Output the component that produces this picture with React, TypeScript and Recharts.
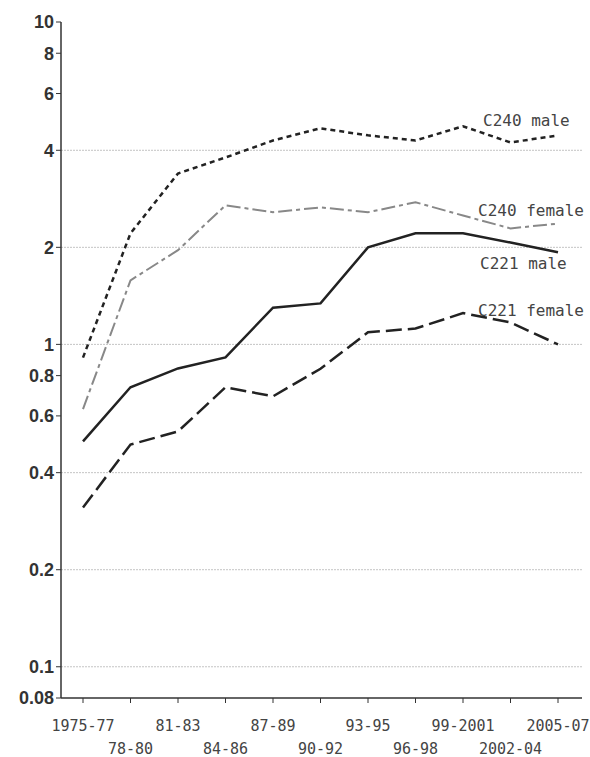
import { LineChart, Line, XAxis, YAxis, ReferenceLine, LabelList } from "recharts";

const periods = ["1975-77", "78-80", "81-83", "84-86", "87-89", "90-92", "93-95", "96-98", "99-2001", "2002-04", "2005-07"];
const c240Male = [0.91, 2.21, 3.39, 3.8, 4.29, 4.68, 4.45, 4.29, 4.75, 4.23, 4.45];
const c240Female = [0.63, 1.58, 1.96, 2.7, 2.57, 2.66, 2.57, 2.76, 2.51, 2.29, 2.37];
const c221Male = [0.5, 0.736, 0.842, 0.911, 1.3, 1.34, 2.0, 2.21, 2.21, 2.07, 1.93];
const c221Female = [0.312, 0.489, 0.537, 0.736, 0.69, 0.84, 1.09, 1.12, 1.25, 1.17, 1.0];
const yTicks = [0.08, 0.1, 0.2, 0.4, 0.6, 0.8, 1, 2, 4, 6, 8, 10];
const gridValues = [0.1, 0.2, 0.4, 1, 2, 4];

const data = periods.map((period, i) => ({
  period,
  c240Male: c240Male[i],
  c240Female: c240Female[i],
  c221Male: c221Male[i],
  c221Female: c221Female[i],
}));

const labelFont = "'DejaVu Sans Mono', monospace";

// label drawn only next to the last point
const endLabel = (text: string, dx: number, dy: number) => (props: any) => {
  if (props.index !== periods.length - 1) return null;
  return (
    <text x={props.x + dx} y={props.y + dy} fill="#444" fontSize={16} fontFamily={labelFont}>
      {text}
    </text>
  );
};

const XTick = (props: any) => {
  const { x, y, payload, index } = props;
  const dy = index % 2 === 0 ? 26 : 49;
  return (
    <text x={x} y={y + dy} textAnchor="middle" fill="#444" fontSize={15} fontFamily={labelFont}>
      {payload.value}
    </text>
  );
};

export default function App() {
  return (
    <div style={{ position: "absolute", left: 0, top: 0, background: "#fff" }}>
      <LineChart width={590} height={757} data={data} margin={{ top: 22, right: 8, bottom: 9, left: 11 }}>
        {gridValues.map(v => (
          <ReferenceLine key={v} y={v} stroke="#c4c4c4" strokeWidth={1} strokeDasharray="2 1" />
        ))}
        <XAxis
          dataKey="period"
          type="category"
          padding={{ left: 22, right: 24 }}
          interval={0}
          height={50}
          tick={<XTick />}
          tickSize={5}
          axisLine={{ stroke: "#333", strokeWidth: 1.5 }}
          tickLine={{ stroke: "#333" }}
        />
        <YAxis
          scale="log"
          domain={[0.08, 10]}
          ticks={yTicks}
          allowDataOverflow
          interval={0}
          width={50}
          tickSize={5}
          tickFormatter={(v: number) => String(v)}
          tick={{ fill: "#333", fontSize: 18, fontWeight: "bold", fontFamily: "'Liberation Sans', Arial, sans-serif" }}
          axisLine={{ stroke: "#333", strokeWidth: 1.5 }}
          tickLine={{ stroke: "#333" }}
        />
        <Line dataKey="c240Male" stroke="#222" strokeWidth={2.5} strokeDasharray="5 4" dot={false} isAnimationActive={false}>
          <LabelList dataKey="c240Male" content={endLabel("C240 male", -75, -9)} />
        </Line>
        <Line dataKey="c240Female" stroke="#888" strokeWidth={2} strokeDasharray="14 4 4 4" dot={false} isAnimationActive={false}>
          <LabelList dataKey="c240Female" content={endLabel("C240 female", -80, -8)} />
        </Line>
        <Line dataKey="c221Male" stroke="#222" strokeWidth={2.5} dot={false} isAnimationActive={false}>
          <LabelList dataKey="c221Male" content={endLabel("C221 male", -78, 17)} />
        </Line>
        <Line dataKey="c221Female" stroke="#222" strokeWidth={2.5} strokeDasharray="16 6" dot={false} isAnimationActive={false}>
          <LabelList dataKey="c221Female" content={endLabel("C221 female", -80, -28)} />
        </Line>
      </LineChart>
    </div>
  );
}
